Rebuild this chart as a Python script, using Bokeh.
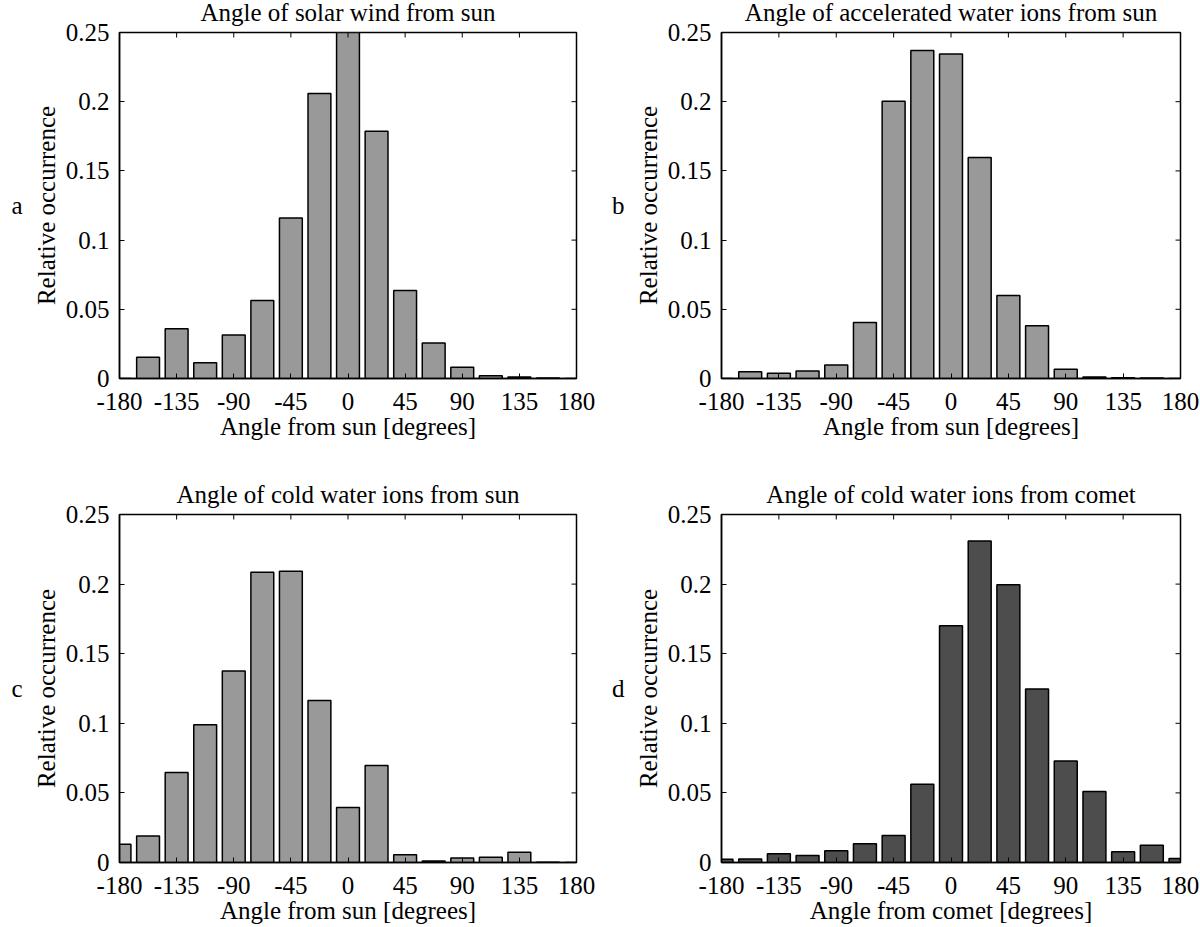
from bokeh.plotting import figure
from bokeh.models import Range1d, FixedTicker, LinearAxis, CustomJSTickFormatter
from bokeh.layouts import column, row
from bokeh.embed import file_html
from bokeh.resources import INLINE

# bin centres (degrees) and relative occurrence per panel
angles = [-180, -157.5, -135, -112.5, -90, -67.5, -45, -22.5, 0,
          22.5, 45, 67.5, 90, 112.5, 135, 157.5, 180]

solar_wind = [0, 0.0153, 0.036, 0.0113, 0.0314, 0.0563, 0.116, 0.206, 0.25,
              0.1786, 0.0635, 0.0256, 0.0081, 0.002, 0.001, 0.0003, 0]
accel_water = [0, 0.0048, 0.0038, 0.0055, 0.0098, 0.0405, 0.2004, 0.237, 0.2344,
               0.1596, 0.06, 0.0381, 0.0067, 0.001, 0.0005, 0.0003, 0]
cold_water_sun = [0.0132, 0.0191, 0.0646, 0.099, 0.1376, 0.2086, 0.2093, 0.1163, 0.0395,
                  0.0696, 0.0055, 0.001, 0.0033, 0.0038, 0.0074, 0.0002, 0]
cold_water_comet = [0.0024, 0.0026, 0.0062, 0.005, 0.0084, 0.0134, 0.0194, 0.0562, 0.170,
                    0.2309, 0.1995, 0.1246, 0.073, 0.051, 0.0077, 0.0124, 0.0029]

x_ticks = [-180, -135, -90, -45, 0, 45, 90, 135, 180]
y_ticks = [0, 0.05, 0.1, 0.15, 0.2, 0.25]

FONT = "Liberation Serif"
FS = "25px"
SHIFT = 12  # layout is pulled up so the titles can sit near the top edge


def panel(vals, fill, title, xlabel, letter, width, height, left, top, fw, fh):
    p = figure(width=width, height=height, output_backend="svg", toolbar_location=None,
               x_range=Range1d(-180, 180), y_range=Range1d(0, 0.25), title=title,
               min_border_left=left, min_border_top=top,
               min_border_right=width - left - fw, min_border_bottom=height - top - fh)
    p.grid.visible = False
    p.outline_line_color = "black"
    p.outline_line_width = 1.5
    p.background_fill_color = "white"
    p.border_fill_color = "white"

    p.title.text_font = FONT
    p.title.text_font_size = FS
    p.title.text_font_style = "normal"
    p.title.text_color = "black"
    p.title.align = "center"
    p.title.vertical_align = "bottom"
    p.title.standoff = 13

    p.vbar(x=angles, top=vals, bottom=0, width=18, fill_color=fill,
           line_color="black", line_width=1.5)

    # inward ticks on the top and right edges of the box
    dx = 360 / fw
    dy = 0.25 / fh
    p.segment(x0=x_ticks, y0=[0.25] * len(x_ticks), x1=x_ticks,
              y1=[0.25 - 5 * dy] * len(x_ticks), line_color="black", line_width=1)
    p.segment(x0=[180] * len(y_ticks), y0=y_ticks, x1=[180 - 5 * dx] * len(y_ticks),
              y1=y_ticks, line_color="black", line_width=1)

    for ax in p.axis:
        ax.axis_line_color = "black"
        ax.axis_line_width = 1.5
        ax.major_tick_in = 5
        ax.major_tick_out = 0
        ax.major_tick_line_color = "black"
        ax.minor_tick_line_color = None
        ax.major_label_text_font = FONT
        ax.major_label_text_font_size = FS
        ax.major_label_text_color = "black"
        ax.axis_label_text_font = FONT
        ax.axis_label_text_font_size = FS
        ax.axis_label_text_font_style = "normal"
        ax.axis_label_text_color = "black"
        ax.formatter = CustomJSTickFormatter(code="return String(tick)")

    xa = p.below[0]
    xa.ticker = FixedTicker(ticks=x_ticks)
    xa.major_label_standoff = 14
    xa.axis_label = xlabel
    xa.axis_label_standoff = 0

    ya = p.left[0]
    ya.ticker = FixedTicker(ticks=y_ticks)
    ya.major_label_standoff = 10
    ya.axis_label = "Relative occurrence"
    ya.axis_label_standoff = 3

    # panel letter as the label of a bare outer axis
    la = LinearAxis(ticker=FixedTicker(ticks=[]), axis_line_color=None,
                    major_tick_line_color=None, minor_tick_line_color=None,
                    major_label_text_font_size="0px", major_label_standoff=0,
                    axis_label=letter, axis_label_orientation="horizontal",
                    axis_label_standoff=7, axis_label_text_font=FONT,
                    axis_label_text_font_size=FS, axis_label_text_font_style="normal",
                    axis_label_text_color="black")
    p.add_layout(la, "left")
    return p


pa = panel(solar_wind, "#999999", "Angle of solar wind from sun",
           "Angle from sun [degrees]", "a", 600, 467, 119, 32 + SHIFT, 457, 346)
pb = panel(accel_water, "#999999", "Angle of accelerated water ions from sun",
           "Angle from sun [degrees]", "b", 600, 467, 121, 32 + SHIFT, 459, 346)
pc = panel(cold_water_sun, "#999999", "Angle of cold water ions from sun",
           "Angle from sun [degrees]", "c", 600, 472, 119, 59, 457, 348)
pd = panel(cold_water_comet, "#4d4d4d", "Angle of cold water ions from comet",
           "Angle from comet [degrees]", "d", 600, 472, 121, 59, 459, 348)

layout = column(row(pa, pb), row(pc, pd), styles={"margin-top": "-%dpx" % SHIFT})

open("out.html", "w").write(file_html(layout, INLINE))
